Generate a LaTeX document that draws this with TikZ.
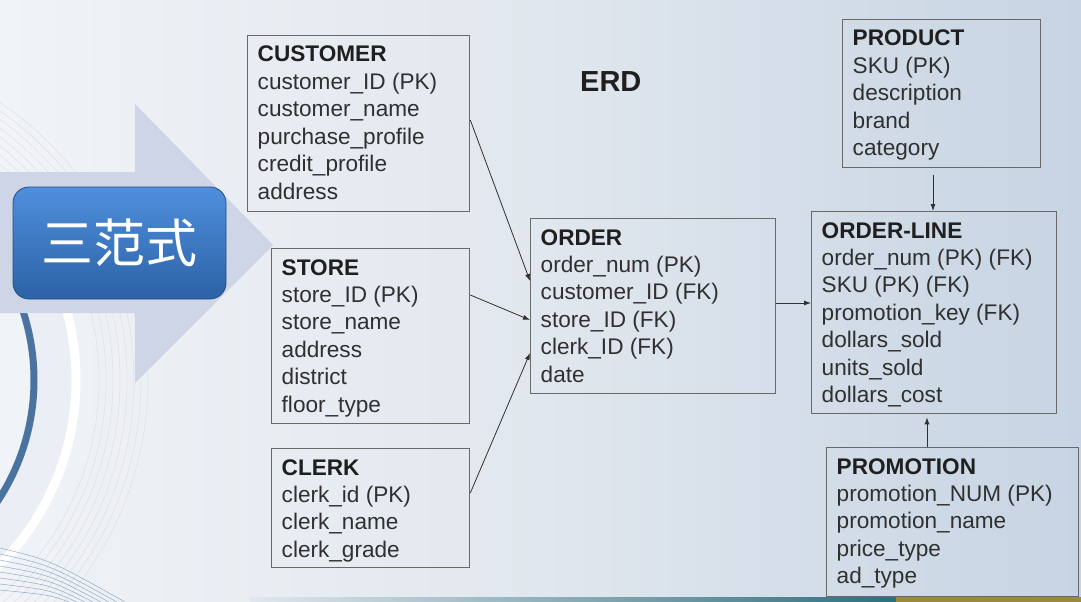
\documentclass[tikz,border=0pt]{standalone}
\usepackage{fontspec}
\setmainfont{Liberation Sans}
\newfontfamily\cjk{Noto Sans CJK SC}
\usetikzlibrary{arrows.meta,calc}

\definecolor{bgleft}{HTML}{F0F3F7}
\definecolor{bgmid}{HTML}{E1E7EE}
\definecolor{bgright}{HTML}{C7D4E3}
\definecolor{chevron}{HTML}{CDD5E6}
\definecolor{btntop}{HTML}{4F8FDC}
\definecolor{btnbot}{HTML}{2C62A6}
\definecolor{swirl}{HTML}{4B73A0}
\definecolor{boxline}{HTML}{696969}
\definecolor{ink}{HTML}{303030}
\definecolor{stripteal}{HTML}{2F6E7E}
\definecolor{stripgold}{HTML}{9A8A3C}

\tikzset{
	entity/.style = {draw = boxline, line width = 1.3pt, anchor = north west, inner sep = 0pt},
	attr/.style = {anchor = base west, inner sep = 0pt, text = ink, font = \fontsize{22.6}{26}\selectfont},
	ttl/.style = {attr, font = \fontsize{22.6}{26}\selectfont\bfseries, text = black!88},
	link/.style = {draw = ink, line width = 0.8pt, -{Latex[length = 7pt, width = 5pt]}},
	button/.style = {rounded corners = 16pt, minimum width = 213pt, minimum height = 112pt,
		top color = btntop, bottom color = btnbot, draw = btnbot!80!black, line width = 0.8pt,
		text = white, font = \cjk\fontsize{52}{56}\selectfont}
}

\begin{document}
\begin{tikzpicture}[x = 1pt, y = -1pt]
	\useasboundingbox (0, 0) rectangle (1081, 602);
	% background
	\shade[left color = bgleft, right color = bgright, middle color = bgmid] (0, 0) rectangle (1081, 602);
	\begin{scope}
		\clip (0, 0) rectangle (1081, 602);
		\fill[white!60!chevron] (-186, 380) circle[radius = 265];
		\fill[bgleft] (-186, 380) circle[radius = 220];
		\draw[white, line width = 9pt] (-186, 380) circle[radius = 262];
		\foreach \r in {285, 292, ..., 334}
		{
			\draw[black!12, line width = 0.5pt] (-186, 380) circle[radius = \r];
		}
		\draw[swirl, line width = 7pt] (-186, 380) circle[radius = 220];
		\foreach \k in {0, ..., 7}
		{
			\draw[swirl!60, line width = 0.5pt] (0, 548 + 6 * \k) .. controls (50, 560 + 5 * \k) .. (125 - 8 * \k, 602);
		}
		\fill[left color = bgmid, right color = stripteal] (250, 597) rectangle (896, 602);
		\fill[stripgold] (896, 597) rectangle (1081, 602);
	\end{scope}
	\fill[chevron] (0, 172) -- (135, 172) -- (135, 104) -- (273, 245) -- (135, 383) -- (135, 313) -- (0, 313) -- cycle;
	\node[button] (nf) at (119.5, 243) {三范式};
	\node[ttl, font = \fontsize{29}{32}\selectfont\bfseries] (erd) at (580, 91) {ERD};
	% entities: name/x/y/width/height/title/rows
	\foreach \id/\x/\y/\w/\h/\t/\rows in {
		customer/247/35/222/176/CUSTOMER/{customer\_ID (PK), customer\_name, purchase\_profile, credit\_profile, address},
		store/271/248/198/175/STORE/{store\_ID (PK), store\_name, address, district, floor\_type},
		clerk/271/448/198/119/CLERK/{clerk\_id (PK), clerk\_name, clerk\_grade},
		order/530/218/245/175/ORDER/{order\_num (PK), customer\_ID (FK), store\_ID (FK), clerk\_ID (FK), date},
		product/842/19/198/148/PRODUCT/{SKU (PK), description, brand, category},
		orderline/811/211/245/202/ORDER-LINE/{order\_num (PK) (FK), SKU (PK) (FK), promotion\_key (FK), dollars\_sold, units\_sold, dollars\_cost},
		promotion/826/447/252/149/PROMOTION/{promotion\_NUM (PK), promotion\_name, price\_type, ad\_type}}
	{
		\node[entity, minimum width = \w, minimum height = \h] (\id) at (\x, \y) {};
		\node[ttl] (\id-t) at ($(\id.north west) + (10.5, 27)$) {\t};
		\foreach \a [count = \i] in \rows
		{
			\node[attr] (\id-\i) at ($(\id-t.base west) + (0, 27.4 * \i)$) {\a};
		}
	}
	% relations
	\draw[link] ($(customer.north east) + (0, 85)$) -- ($(order.north west) + (0, 63)$);
	\draw[link] ($(store.north east) + (0, 47)$) -- ($(order.north west) + (0, 102)$);
	\draw[link] ($(clerk.north east) + (0, 45)$) -- ($(order.north west) + (0, 135)$);
	\draw[link] ($(order.north east) + (0, 85)$) -- ($(orderline.north west) + (0, 92)$);
	\draw[link] ($(product.south west) + (91, 7)$) -- ($(orderline.north west) + (122, 0)$);
	\draw[link, shorten > = 3pt] ($(promotion.north west) + (101, 0)$) -- ($(orderline.south west) + (116, 0)$);
\end{tikzpicture}
\end{document}
